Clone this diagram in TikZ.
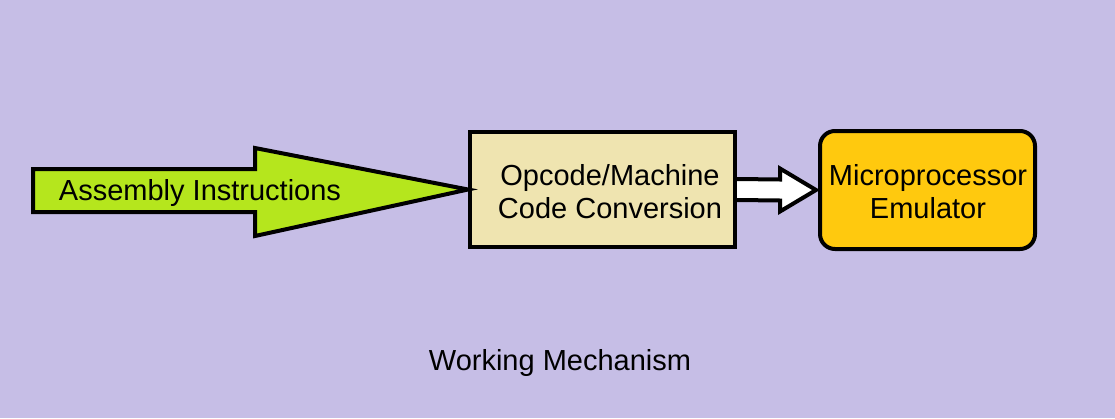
\documentclass[tikz,border=0pt]{standalone}
\usepackage{fontspec}
\setmainfont{Liberation Sans}
\usetikzlibrary{calc}
\definecolor{bgpurple}{RGB}{198,190,230}
\definecolor{asmgreen}{RGB}{181,230,29}
\definecolor{convbeige}{RGB}{239,228,176}
\definecolor{emuorange}{RGB}{255,201,14}
\tikzset{
  blockbox/.style={draw, line width=4pt, inner sep=0pt, align=center},
  bigtext/.style={font=\fontsize{29}{33}\selectfont, align=center, inner sep=0pt}
}
\begin{document}
\begin{tikzpicture}[x=1pt, y=-1pt, line join=miter, >=stealth]
\fill[bgpurple] (0,0) rectangle (1115,418);
\useasboundingbox (0,0) rectangle (1115,418);
% blocks
\node[blockbox, fill=convbeige, minimum width=265pt, minimum height=115pt] (conv) at (602.5,189.5) {};
\node[bigtext] (convtext) at (610,192) {Opcode/Machine\\Code Conversion};
\node[blockbox, fill=emuorange, rounded corners=15pt, minimum width=215pt, minimum height=118pt] (emu) at (927.5,190) {};
\node[bigtext] (emutext) at (928,191.5) {Microprocessor\\Emulator};
% input arrow
\draw[line width=4pt, fill=asmgreen] (33,169)--(255,169)--(255,148)--(conv.west)--(255,236)--(255,212)--(33,212)--cycle;
\node[bigtext] (asm) at (200,193) {Assembly Instructions};
% white arrow between blocks
\draw[line width=4pt, fill=white] ($(conv.east)+(0,-10.5)$)--(780,179.5)--(780,168.5)
  --($(emu.west)+(-2,0)$)--(780,211.5)--(780,200.5)--($(conv.east)+(0,10.5)$);
\node[bigtext] (title) at (560,363) {Working Mechanism};
\end{tikzpicture}
\end{document}
